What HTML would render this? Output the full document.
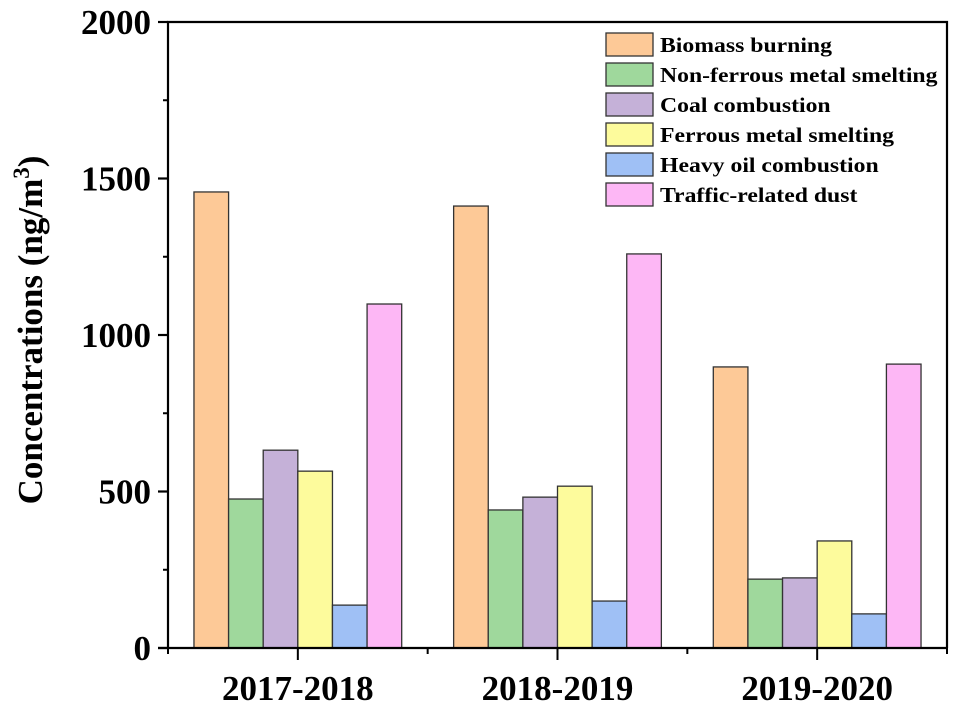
<!DOCTYPE html>
<html><head><meta charset="utf-8"><style>
body{margin:0;background:#fff;}
svg{display:block;font-family:"Liberation Serif",serif;font-weight:bold;}
</style></head><body>
<svg id="chart" width="958" height="706" viewBox="0 0 958 706"></svg>
<script>
const categories=["2017-2018","2018-2019","2019-2020"];
const seriesNames=["Biomass burning","Non-ferrous metal smelting","Coal combustion","Ferrous metal smelting","Heavy oil combustion","Traffic-related dust"];
const biomass=[1457,1412,898];
const nonFerrous=[476,441,220];
const coal=[632,482,224];
const ferrous=[565,517,342];
const heavyOil=[137,150,109];
const traffic=[1099,1259,907];
const yTicks=[0,500,1000,1500,2000];
const colors=["#fdc997","#9fd89c","#c5b1d8","#fdfb9c","#9fc0f5","#fdb7f5"];
const series=[biomass,nonFerrous,coal,ferrous,heavyOil,traffic];
const svg=document.getElementById('chart');
const NS="http://www.w3.org/2000/svg";
const L=168,R=947,T=22,B=648,yMax=2000;
const y=v=>B-(v/yMax)*(B-T);
const bandW=(R-L)/categories.length;
const x=i=>L+bandW*(i+0.5);
const barW=bandW*0.8/6;
function mk(tag,attrs,parent){const e=document.createElementNS(NS,tag);for(const k in attrs)e.setAttribute(k,attrs[k]);(parent||svg).appendChild(e);return e;}
series.forEach((s,si)=>{s.forEach((v,ci)=>{
 const bx=x(ci)-bandW*0.4+si*barW;
 const r=mk('rect',{x:bx,y:y(v),width:barW,height:B-y(v),fill:colors[si],stroke:'#333','stroke-width':1.3});
 
 
});});
const fr=mk('path',{d:`M${L},${B}V${T}H${R}V${B}`,fill:'none',stroke:'#000','stroke-width':2.2});

const xa=mk('line',{x1:L-10,y1:B,x2:R,y2:B,stroke:'#000','stroke-width':2.2});

yTicks.forEach(t=>{
 mk('line',{x1:L-10,y1:y(t),x2:L,y2:y(t),stroke:'#000','stroke-width':2.2});
 const tx=mk('text',{x:L-17,y:y(t)+12,'text-anchor':'end','font-size':35});tx.textContent=t;
 
});
for(let t=250;t<yMax;t+=500)mk('line',{x1:L-5,y1:y(t),x2:L,y2:y(t),stroke:'#000','stroke-width':2});
categories.forEach((c,i)=>{
 mk('line',{x1:x(i),y1:B,x2:x(i),y2:B+12,stroke:'#000','stroke-width':2});
 mk('line',{x1:L+bandW*(i+1),y1:B,x2:L+bandW*(i+1),y2:B+6,stroke:'#000','stroke-width':2});
 const tx=mk('text',{x:x(i),y:700,'text-anchor':'middle','font-size':35});tx.textContent=c;
 
});
mk('line',{x1:L,y1:B,x2:L,y2:B+6,stroke:'#000','stroke-width':2});
const yt=mk('text',{x:0,y:0,'text-anchor':'middle','font-size':35,transform:'translate(42,330) rotate(-90)'});
yt.innerHTML='Concentrations (ng/m<tspan dy="-13" font-size="23">3</tspan><tspan dy="13">)</tspan>';

seriesNames.forEach((n,i)=>{
 const g=mk('g',{});
 
 mk('rect',{x:606,y:33+i*30,width:47,height:23,fill:colors[i],stroke:'#333','stroke-width':1.3},g);
 const t=mk('text',{x:660,y:52+i*30,'font-size':21,textLength:0},g);t.textContent=n;
 t.removeAttribute('textLength');
 t.setAttribute('transform','translate(660,0) scale(1.13,1) translate(-660,0)');
});
</script>
</body></html>
